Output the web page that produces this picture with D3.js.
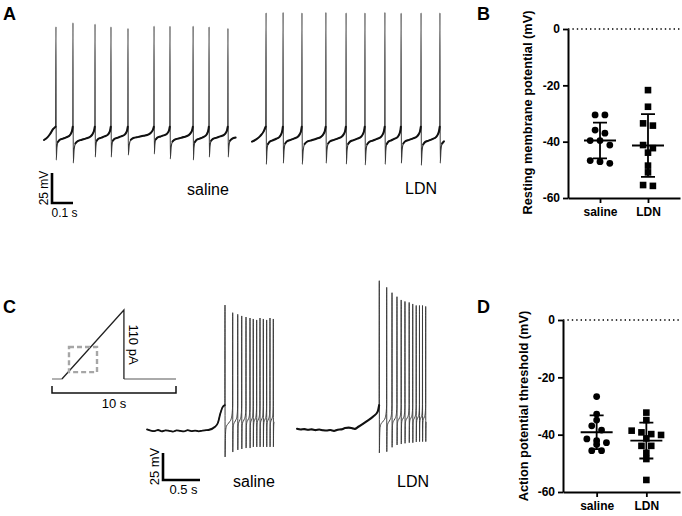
<!DOCTYPE html>
<html><head><meta charset="utf-8">
<script src="https://cdn.jsdelivr.net/npm/d3@7"></script>
<style>body{margin:0;background:#fff}svg{display:block}</style>
</head><body>
<svg id="fig" width="682" height="516"></svg>
<script>
// ================= DATA =================
// Panel A: spontaneous firing (time s, membrane potential mV)
const aSalineSpikeT  = [0.057, 0.138, 0.243, 0.319, 0.400, 0.524, 0.600, 0.710, 0.786, 0.876];
const aSalinePeakV   = [44.4, 47.8, 46.7, 44.4, 43.1, 45.0, 45.0, 45.0, 44.4, 43.1];
const aSalineTroughV = [-66.7, -69.2, -64.2, -64.2, -62.5, -61.7, -65.8, -66.7, -64.2, -64.2];
const aSalineLeadT   = [0, 0.015, 0.029, 0.043, 0.055];
const aSalineLeadV   = [-50, -48, -45, -41, -38.9];
const aSalineEndT    = 0.919;
const aLdnSpikeT  = [0.067, 0.148, 0.238, 0.352, 0.448, 0.538, 0.633, 0.710, 0.805, 0.895];
const aLdnPeakV   = [56.1, 56.4, 56.1, 56.4, 56.1, 56.1, 56.4, 55.8, 56.1, 56.1];
const aLdnTroughV = [-70.3, -69.4, -70.3, -69.4, -70.0, -70.8, -70.3, -69.4, -71.1, -69.4];
const aLdnLeadT   = [0, 0.02, 0.04, 0.055, 0.065];
const aLdnLeadV   = [-51.4, -49.5, -46.5, -43, -38.9];
const aLdnEndT    = 0.929;
const aThresholdV = -38.9;

// inter-spike trajectory: phase of ISI -> fraction trough->threshold
const isiPhase = [0, 0.04, 0.1, 0.2, 0.4, 0.6, 0.8, 0.9, 0.97, 1];
const isiFrac  = [0, 0.36, 0.54, 0.6, 0.64, 0.68, 0.73, 0.8, 0.9, 1];

// Panel C: ramp-evoked firing
const cSalineBaseV  = [-59.5, -60.5, -61, -60, -61.2, -60.3, -60.8, -61.5, -60.4, -60.9, -61.3, -60.2, -61, -60.6, -61.2, -60.5, -60.2];
const cSalineRampT  = [0.83, 0.92, 0.96, 0.99, 1.02, 1.052];
const cSalineRampV  = [-60, -57, -53, -45, -39, -37];
const cSalineSpikeT = [1.054, 1.158, 1.226, 1.280, 1.338, 1.392, 1.436, 1.482, 1.527, 1.572, 1.617, 1.662, 1.707];
const cSalinePeakV  = [55.7, 48.6, 47.1, 45.6, 44.6, 43.7, 42.8, 41.9, 43.7, 42.8, 41.9, 43.7, 42.8];
const cSalineTroughV= [-85, -80.4, -78.5, -77.6, -76.7, -76.7, -75.7, -75.7, -75.7, -75.7, -75.7, -75.7, -75.7];
const cLdnBaseV  = [-58.8, -59.5, -59.2, -59.8, -59.4, -60.1, -59.6, -60.2, -60.5, -60, -60.8, -59.7, -59.4, -58.2, -57.8, -58.5];
const cLdnRampT  = [0.78, 0.83, 0.94, 1.03, 1.09, 1.11];
const cLdnRampV  = [-59, -57, -52, -47.5, -43, -37];
const cLdnSpikeT = [1.112, 1.212, 1.284, 1.351, 1.408, 1.459, 1.516, 1.564, 1.611, 1.655, 1.696, 1.739];
const cLdnPeakV  = [78.2, 72.1, 67.1, 63.4, 60.4, 59.0, 58.1, 56.7, 55.3, 55.3, 55.3, 54.4];
const cLdnTroughV= [-81.3, -80.1, -76, -73.9, -73, -72.3, -71.8, -71.8, -71.1, -70.8, -70.8, -70.8];
const cBaseDt = 0.05;
const cThresholdV = -37;

// ramp stimulus (s, pA)
const stimT = [0, 0.8, 5.8, 5.8, 10];
const stimI = [0, 0, 110, 0, 0];
const zoomBoxT = [1.37, 3.63];
const zoomBoxI = [11, 51];

// Panels B and D (mV)
const groups = ["saline", "LDN"];
const rmpSaline = [-30.5, -30.5, -35.9, -37.0, -39.6, -39.6, -41.2, -47.7, -46.7, -47.1];
const rmpLdn    = [-21.7, -27.6, -33.5, -34.3, -41.2, -42.3, -43.9, -48.5, -50.9, -55.7, -55.4];
const thrSaline = [-26.7, -32.8, -34.9, -36.9, -38.4, -42.1, -41.5, -43.4, -42.8, -45.6, -45.6];
const thrLdn    = [-32.3, -34.9, -38.6, -40.1, -39.8, -39.2, -41.3, -43.9, -43.9, -46.3, -48.5, -55.8];
const yTicks = [0, -20, -40, -60];

// ================= DRAWING =================
const svg = d3.select("#fig");
const FONT = "'Liberation Sans', Arial, sans-serif";

function letter(t, x, y) {
  svg.append("text").attr("x", x).attr("y", y).text(t)
    .attr("font-family", FONT).attr("font-weight", "bold").attr("font-size", 18);
}
letter("A", 3, 20); letter("B", 477, 20); letter("C", 3, 313); letter("D", 477, 313);

function buildTrace(spikeT, peakV, troughV, thrV, leadT, leadV, endT) {
  const dt = 0.0012;
  const full = [], subs = [];
  let seg = leadT.map((t, i) => [t, leadV[i]]);
  const meanIsi = d3.mean(d3.pairs(spikeT), p => p[1] - p[0]);
  spikeT.forEach((ts, i) => {
    subs.push(seg); full.push(...seg);
    full.push([ts, peakV[i]]);
    const last = i === spikeT.length - 1;
    const isi = last ? meanIsi : spikeT[i + 1] - ts;
    seg = [];
    isiPhase.forEach((p, k) => {
      const t = ts + dt + p * (isi - 2 * dt);
      if (!last || t <= endT) seg.push([t, troughV[i] + isiFrac[k] * (thrV - troughV[i])]);
    });
  });
  subs.push(seg); full.push(...seg);
  return { full, subs };
}

function drawTrace(tr, x, y, spikeStroke, spikeW, subStroke, subW, subsToDraw, skip) {
  const line = d3.line().x(d => x(d[0])).y(d => y(d[1])).curve(d3.curveMonotoneX);
  const g = svg.append("g").attr("fill", "none");
  g.append("path").attr("d", d3.line().x(d => x(d[0])).y(d => y(d[1])).curve(d3.curveMonotoneX)(tr.full))
    .attr("stroke", spikeStroke).attr("stroke-width", spikeW).attr("stroke-linejoin", "round");
  subsToDraw.forEach((s, i) => {
    const part = i === 0 ? s : s.slice(skip);
    if (part.length > 1) g.append("path").attr("d", line(part)).attr("stroke", subStroke)
      .attr("stroke-width", subW).attr("stroke-linecap", "round");
  });
}

// ---- Panel A ----
const yA = d3.scaleLinear().domain([0, 25]).range([80, 50]);
const xAs = d3.scaleLinear().domain([0, 1]).range([44, 254]);
const xAl = d3.scaleLinear().domain([0, 1]).range([252, 462]);
const trAs = buildTrace(aSalineSpikeT, aSalinePeakV, aSalineTroughV, aThresholdV, aSalineLeadT, aSalineLeadV, aSalineEndT);
const trAl = buildTrace(aLdnSpikeT, aLdnPeakV, aLdnTroughV, aThresholdV, aLdnLeadT, aLdnLeadV, aLdnEndT);
drawTrace(trAs, xAs, yA, "#3a3a3a", 1.1, "#111", 2, trAs.subs, 2);
drawTrace(trAl, xAl, yA, "#3a3a3a", 1.1, "#111", 2, trAl.subs, 2);

function scaleBar(x0, y0, xs, ys, tLen, vLen, tLabel, vLabel, fs) {
  const w = xs(tLen) - xs(0), h = ys(0) - ys(vLen);
  svg.append("path").attr("d", `M${x0},${y0 - h}V${y0}H${x0 + w}`)
    .attr("fill", "none").attr("stroke", "#000").attr("stroke-width", 2.6);
  svg.append("text").attr("transform", `translate(${x0 - 4},${y0 - h / 2}) rotate(-90)`)
    .attr("text-anchor", "middle").attr("font-family", FONT).attr("font-size", fs).text(vLabel);
  svg.append("text").attr("x", x0 + w / 2 + 2).attr("y", y0 + 14)
    .attr("text-anchor", "middle").attr("font-family", FONT).attr("font-size", fs).text(tLabel);
}
scaleBar(52, 203, xAs, yA, 0.1, 25, "0.1 s", "25 mV", 12);

function label(t, x, y) {
  svg.append("text").attr("x", x).attr("y", y).text(t)
    .attr("font-family", FONT).attr("font-size", 16);
}
label("saline", 187, 195); label("LDN", 405, 194);

// ---- Panel C ----
const yC = d3.scaleLinear().domain([-60, -35]).range([430, 403]);
const xCs = d3.scaleLinear().domain([0, 1]).range([147, 221]);
const xCl = d3.scaleLinear().domain([0, 1]).range([297, 371]);
const csLeadT = cSalineBaseV.map((v, i) => i * cBaseDt).concat(cSalineRampT);
const csLeadV = cSalineBaseV.concat(cSalineRampV);
const clLeadT = cLdnBaseV.map((v, i) => i * cBaseDt).concat(cLdnRampT);
const clLeadV = cLdnBaseV.concat(cLdnRampV);
const trCs = buildTrace(cSalineSpikeT, cSalinePeakV, cSalineTroughV, cThresholdV, csLeadT, csLeadV,
  cSalineSpikeT[cSalineSpikeT.length - 1] + 0.012);
const trCl = buildTrace(cLdnSpikeT, cLdnPeakV, cLdnTroughV, cThresholdV, clLeadT, clLeadV,
  cLdnSpikeT[cLdnSpikeT.length - 1] + 0.012);
drawTrace(trCs, xCs, yC, "#3c3c3c", 1, "#111", 1.8, [trCs.subs[0]], 0);
drawTrace(trCl, xCl, yC, "#3c3c3c", 1, "#111", 2.1, [trCl.subs[0]], 0);
scaleBar(163, 480, xCs, yC, 0.5, 25, "0.5 s", "25 mV", 13);
label("saline", 233, 487); label("LDN", 397, 487);

// stimulus inset
const xStim = d3.scaleLinear().domain([0, 10]).range([52, 176]);
const yStim = d3.scaleLinear().domain([0, 110]).range([379, 310]);
const stimPts = stimT.map((t, i) => [t, stimI[i]]);
const sl = d3.line().x(d => xStim(d[0])).y(d => yStim(d[1]));
svg.append("path").attr("d", sl(stimPts.slice(0, 2))).attr("stroke", "#aaa").attr("stroke-width", 1.8).attr("fill", "none");
svg.append("path").attr("d", sl(stimPts.slice(3))).attr("stroke", "#aaa").attr("stroke-width", 1.8).attr("fill", "none");
svg.append("path").attr("d", sl(stimPts.slice(1, 4))).attr("stroke", "#222").attr("stroke-width", 1.3).attr("fill", "none");
svg.append("rect").attr("x", xStim(zoomBoxT[0])).attr("y", yStim(zoomBoxI[1]))
  .attr("width", xStim(zoomBoxT[1]) - xStim(zoomBoxT[0])).attr("height", yStim(zoomBoxI[0]) - yStim(zoomBoxI[1]))
  .attr("fill", "none").attr("stroke", "#a6a6a6").attr("stroke-width", 2.4).attr("stroke-dasharray", "5,3");
svg.append("path").attr("d", `M${xStim(0)},${386}V${393}H${xStim(10)}V${386}`)
  .attr("fill", "none").attr("stroke", "#111").attr("stroke-width", 1.5);
svg.append("text").attr("x", (xStim(0) + xStim(10)) / 2).attr("y", 408).attr("text-anchor", "middle")
  .attr("font-family", FONT).attr("font-size", 13).text("10 s");
svg.append("text").attr("transform", `translate(${xStim(5.8) + 5},${(yStim(0) + yStim(110)) / 2}) rotate(90)`)
  .attr("text-anchor", "middle").attr("font-family", FONT).attr("font-size", 13).text("110 pA");

// ---- Scatter panels ----
function swarm(vals, y, tol, spacing) {
  const idx = vals.map((v, i) => i).sort((a, b) => y(vals[a]) - y(vals[b]));
  const off = new Array(vals.length).fill(0);
  let row = [];
  const flush = () => { row.forEach((j, k) => off[j] = (k - (row.length - 1) / 2) * spacing); row = []; };
  idx.forEach(i => {
    if (row.length && y(vals[i]) - y(vals[row[0]]) >= tol) flush();
    row.push(i);
  });
  flush();
  return off;
}

function scatter(cfg) {
  const g = svg.append("g");
  const y = d3.scaleLinear().domain([-60, 0]).range([cfg.yb, cfg.yt]);
  const x = d3.scalePoint().domain(groups).range([cfg.xl, cfg.xr]).padding(cfg.pad);
  g.append("line").attr("x1", cfg.xl).attr("x2", cfg.xr).attr("y1", y(0)).attr("y2", y(0))
    .attr("stroke", "#000").attr("stroke-width", 1.4).attr("stroke-dasharray", "1.4,3");
  const ya = g.append("g").attr("transform", `translate(${cfg.xl},0)`)
    .call(d3.axisLeft(y).tickValues(yTicks).tickSize(5).tickSizeOuter(0).tickPadding(3).tickFormat(d => String(d)));
  const xa = g.append("g").attr("transform", `translate(0,${cfg.yb})`)
    .call(d3.axisBottom(x).tickSize(5).tickSizeOuter(0).tickPadding(4));
  [ya, xa].forEach(a => {
    a.select(".domain").attr("stroke-width", 2);
    a.selectAll(".tick line").attr("stroke-width", 1.8);
    a.selectAll("text").attr("font-family", FONT).attr("font-weight", "bold").attr("font-size", 12).attr("fill", "#000");
  });
  g.append("text").attr("transform", `translate(${cfg.tx},${(cfg.tTop + cfg.tBot) / 2}) rotate(-90)`)
    .attr("text-anchor", "middle").attr("dominant-baseline", "central")
    .attr("font-family", FONT).attr("font-weight", "bold").attr("font-size", 12.8).text(cfg.title);
  cfg.sets.forEach((vals, gi) => {
    const cx = x(groups[gi]);
    const off = swarm(vals, y, 5, 9.8);
    vals.forEach((v, i) => {
      if (gi === 0) g.append("circle").attr("cx", cx + off[i]).attr("cy", y(v)).attr("r", 3.4).attr("fill", "#000");
      else g.append("rect").attr("x", cx + off[i] - 3.3).attr("y", y(v) - 3.3).attr("width", 6.6).attr("height", 6.6).attr("fill", "#000");
    });
    const m = d3.mean(vals), sd = d3.deviation(vals);
    const eb = `M${cx - 16},${y(m)}H${cx + 16}M${cx},${y(m + sd)}V${y(m - sd)}M${cx - 7},${y(m + sd)}H${cx + 7}M${cx - 7},${y(m - sd)}H${cx + 7}`;
    g.append("path").attr("d", eb).attr("stroke", "#000").attr("stroke-width", 1.8).attr("fill", "none");
  });
}

scatter({ xl: 568, xr: 680, yb: 198, yt: 29, pad: 0.667, tx: 527.5, tTop: 3, tBot: 222,
  title: "Resting membrane potential (mV)", sets: [rmpSaline, rmpLdn] });
scatter({ xl: 563, xr: 680, yb: 492, yt: 320, pad: 0.677, tx: 523, tTop: 303, tBot: 509,
  title: "Action potential threshold (mV)", sets: [thrSaline, thrLdn] });
</script>
</body></html>
